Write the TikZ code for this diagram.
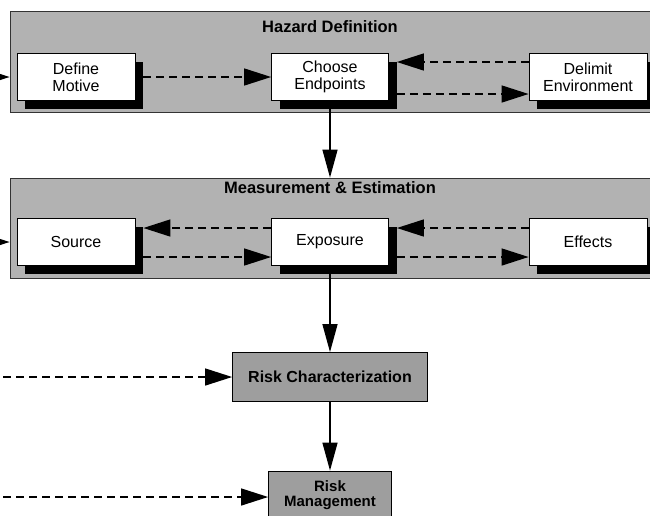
\documentclass[tikz,border=0pt]{standalone}
\usepackage{fontspec}
\setmainfont{Liberation Sans}
\usepackage{tikz}
\usetikzlibrary{arrows.meta, positioning, shadows}

\begin{document}
\begin{tikzpicture}[
            x=1pt, y=-1pt,
            panel/.style={draw=black!80, fill=black!30, line width=0.8pt, inner sep=0pt},
            stagebox/.style={draw, fill=white, line width=0.8pt, align=center,
                font=\fontsize{16}{17}\selectfont,
                drop shadow={shadow xshift=8pt, shadow yshift=-8pt, fill=black, opacity=1}},
            riskbox/.style={draw, fill=black!38, line width=0.8pt, align=center,
                font=\fontsize{16}{16}\selectfont\bfseries},
            title/.style={font=\fontsize{16.5}{16}\selectfont\bfseries},
            dasharrow/.style={line width=1.4pt, dash pattern=on 8pt off 5pt,
                -{Triangle[length=27pt, width=17pt]}},
            solidarrow/.style={line width=1.4pt, -{Triangle[length=28pt, width=15pt]}},
        ]
        \useasboundingbox (0,0) rectangle (650,515);
        % panels
        \node[panel, minimum width=650pt, minimum height=101pt] (hazard) at (335,61.5) {};
        \node[panel, minimum width=650pt, minimum height=100pt] (measure) at (335,228) {};
        \node[title] (hazardtitle) at (330,27) {Hazard Definition};
        \node[title] (measuretitle) at (330,188) {Measurement \& Estimation};
        % stages
        \node[stagebox, minimum width=118pt, minimum height=47pt] (motive) at (76,77) {Define\\Motive};
        \node[stagebox, minimum width=117pt, minimum height=47pt] (endpoints) at (330,77) {Choose\\Endpoints};
        \node[stagebox, minimum width=118pt, minimum height=47pt] (environment) at (588,77) {Delimit\\Environment};
        \node[stagebox, minimum width=118pt, minimum height=47pt] (source) at (76,242) {Source};
        \node[stagebox, minimum width=117pt, minimum height=47pt] (exposure) at (330,242) {Exposure};
        \node[stagebox, minimum width=118pt, minimum height=47pt] (effects) at (588,242) {Effects};
        \node[riskbox, minimum width=195pt, minimum height=49pt] (riskchar) at (330,377) {Risk Characterization};
        \node[riskbox, minimum width=123pt, minimum height=48pt,
            font=\fontsize{15}{15}\selectfont\bfseries] (riskman) at (330,495) {Risk\\Management};
        % inputs from the left
        \coordinate (in1) at (-30,77);
        \coordinate (in2) at (-30,242);
        \coordinate (in3) at (-10,377);
        \coordinate (in4) at (-10,497);
        \draw[dasharrow] (in1) -- (in1 -| hazard.west);
        \draw[dasharrow] (in2) -- (in2 -| measure.west);
        \draw[dasharrow] (in3) -- (riskchar.west);
        \draw[dasharrow] (in4) -- (in4 -| riskman.west);
        % hazard definition
        \draw[dasharrow] ([xshift=8pt]motive.east) -- (endpoints.west);
        \draw[dasharrow] ([yshift=15pt]environment.west) -- ([xshift=8pt, yshift=15pt]endpoints.east);
        \draw[dasharrow] ([xshift=8pt, yshift=-17pt]endpoints.east) -- ([yshift=-17pt]environment.west);
        % measurement & estimation
        \draw[dasharrow] ([yshift=14pt]exposure.west) -- ([xshift=8pt, yshift=14pt]source.east);
        \draw[dasharrow] ([xshift=8pt, yshift=-15pt]source.east) -- ([yshift=-15pt]exposure.west);
        \draw[dasharrow] ([yshift=14pt]effects.west) -- ([xshift=8pt, yshift=14pt]exposure.east);
        \draw[dasharrow] ([xshift=8pt, yshift=-15pt]exposure.east) -- ([yshift=-15pt]effects.west);
        % main flow
        \draw[solidarrow] (endpoints.south) -- (endpoints.south |- measure.north);
        \draw[solidarrow] (exposure.south) -- (riskchar.north);
        \draw[solidarrow] (riskchar.south) -- (riskman.north);
        \end{tikzpicture}
\end{document}
